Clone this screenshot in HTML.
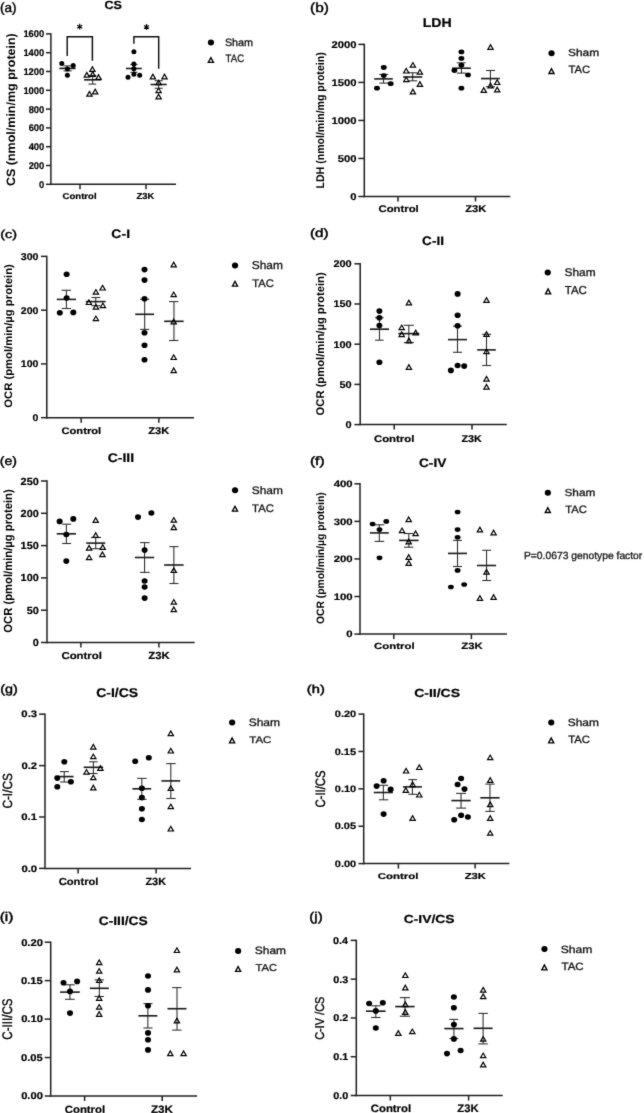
<!DOCTYPE html>
<html><head><meta charset="utf-8"><style>
html,body{margin:0;padding:0;background:#fff;}
svg{display:block;}
text{font-family:"Liberation Sans",sans-serif;text-rendering:geometricPrecision;}
</style></head><body>
<svg width="644" height="1113" viewBox="0 0 644 1113">
<rect width="644" height="1113" fill="#fff"/>
<defs><filter id="bl" x="0" y="0" width="644" height="1113" filterUnits="userSpaceOnUse"><feConvolveMatrix order="3" kernelMatrix="0.0113 0.0838 0.0113 0.0838 0.6193 0.0838 0.0113 0.0838 0.0113" divisor="1" edgeMode="none"/></filter></defs>
<g fill="#000" filter="url(#bl)">
<line x1="50.9" y1="33.2" x2="50.9" y2="185" stroke="#222" stroke-width="1.5"/>
<line x1="50.2" y1="184.3" x2="176" y2="184.3" stroke="#222" stroke-width="1.5"/>
<line x1="46" y1="184.3" x2="50.9" y2="184.3" stroke="#222" stroke-width="1.5"/>
<text transform="translate(39.07 187.7) scale(0.9521 1)" font-size="9.859" font-weight="bold" fill="#000" stroke="#000" stroke-width="0.2">0</text>
<line x1="46" y1="165.5" x2="50.9" y2="165.5" stroke="#222" stroke-width="1.5"/>
<text transform="translate(28.65 168.9) scale(0.9521 1)" font-size="9.859" font-weight="bold" fill="#000" stroke="#000" stroke-width="0.2">200</text>
<line x1="46" y1="146.7" x2="50.9" y2="146.7" stroke="#222" stroke-width="1.5"/>
<text transform="translate(28.65 150.1) scale(0.9521 1)" font-size="9.859" font-weight="bold" fill="#000" stroke="#000" stroke-width="0.2">400</text>
<line x1="46" y1="127.9" x2="50.9" y2="127.9" stroke="#222" stroke-width="1.5"/>
<text transform="translate(28.65 131.3) scale(0.9521 1)" font-size="9.859" font-weight="bold" fill="#000" stroke="#000" stroke-width="0.2">600</text>
<line x1="46" y1="109.1" x2="50.9" y2="109.1" stroke="#222" stroke-width="1.5"/>
<text transform="translate(28.65 112.5) scale(0.9521 1)" font-size="9.859" font-weight="bold" fill="#000" stroke="#000" stroke-width="0.2">800</text>
<line x1="46" y1="90.3" x2="50.9" y2="90.3" stroke="#222" stroke-width="1.5"/>
<text transform="translate(23.39 93.7) scale(0.9521 1)" font-size="9.859" font-weight="bold" fill="#000" stroke="#000" stroke-width="0.2">1000</text>
<line x1="46" y1="71.5" x2="50.9" y2="71.5" stroke="#222" stroke-width="1.5"/>
<text transform="translate(23.39 74.9) scale(0.9521 1)" font-size="9.859" font-weight="bold" fill="#000" stroke="#000" stroke-width="0.2">1200</text>
<line x1="46" y1="52.7" x2="50.9" y2="52.7" stroke="#222" stroke-width="1.5"/>
<text transform="translate(23.39 56.1) scale(0.9521 1)" font-size="9.859" font-weight="bold" fill="#000" stroke="#000" stroke-width="0.2">1400</text>
<line x1="46" y1="33.9" x2="50.9" y2="33.9" stroke="#222" stroke-width="1.5"/>
<text transform="translate(23.39 37.3) scale(0.9521 1)" font-size="9.859" font-weight="bold" fill="#000" stroke="#000" stroke-width="0.2">1600</text>
<line x1="80" y1="184.3" x2="80" y2="189.3" stroke="#222" stroke-width="1.5"/>
<line x1="146" y1="184.3" x2="146" y2="189.3" stroke="#222" stroke-width="1.5"/>
<text transform="translate(62.62 199.12) scale(1.1338 1)" font-size="8.435" font-weight="bold" fill="#000" stroke="#000" stroke-width="0.2">Control</text>
<text transform="translate(136.52 199.11) scale(1.0800 1)" font-size="8.732" font-weight="bold" fill="#000" stroke="#000" stroke-width="0.2">Z3K</text>
<text transform="translate(0.09 12.11) scale(1.0214 1)" font-size="13.262" font-weight="normal" fill="#000" stroke="#000" stroke-width="0.45">(a)</text>
<text transform="translate(104.4 9.18) scale(1.0646 1)" font-size="11.831" font-weight="bold" fill="#000" stroke="#000" stroke-width="0.2">CS</text>
<text transform="translate(15.26 186.1) rotate(-90) scale(1.0357 1)" font-size="12.086" font-weight="bold" fill="#000">CS (nmol/min/mg protein)</text>
<ellipse cx="210.95" cy="42.4" rx="3.1" ry="3.0"/>
<path fill-rule="evenodd" d="M210.9,56.2 L207.2,63.11 L214.6,63.11Z M210.9,59.06 L212.34,61.76 L209.46,61.76Z"/>
<text transform="translate(224.91 45.79) scale(1.0177 1)" font-size="10.612" font-weight="normal" fill="#111" stroke="#111" stroke-width="0.3">Sham</text>
<text transform="translate(225.61 62.39) scale(0.8850 1)" font-size="10.845" font-weight="normal" fill="#111" stroke="#111" stroke-width="0.3">TAC</text>
<line x1="67.45" y1="65.9" x2="67.45" y2="70.9" stroke="#333" stroke-width="1.1"/>
<line x1="63.5" y1="65.9" x2="71.7" y2="65.9" stroke="#333" stroke-width="1.1"/>
<line x1="63.5" y1="70.9" x2="71.7" y2="70.9" stroke="#333" stroke-width="1.1"/>
<line x1="59.3" y1="68.4" x2="75.6" y2="68.4" stroke="#1a1a1a" stroke-width="1.6"/>
<ellipse cx="61.8" cy="63.5" rx="2.5" ry="2.5"/>
<ellipse cx="73.2" cy="65.5" rx="2.5" ry="2.5"/>
<ellipse cx="67.4" cy="69" rx="2.5" ry="2.5"/>
<ellipse cx="67.4" cy="75.2" rx="2.5" ry="2.5"/>
<line x1="92.65" y1="75.5" x2="92.65" y2="84.1" stroke="#333" stroke-width="1.1"/>
<line x1="88.4" y1="75.5" x2="96.2" y2="75.5" stroke="#333" stroke-width="1.1"/>
<line x1="88.4" y1="84.1" x2="96.2" y2="84.1" stroke="#333" stroke-width="1.1"/>
<line x1="84.1" y1="79.8" x2="101.2" y2="79.8" stroke="#1a1a1a" stroke-width="1.6"/>
<path fill-rule="evenodd" d="M92.4,65.48 L88.7,71.88 L96.1,71.88Z M92.4,67.88 L94.02,70.68 L90.78,70.68Z"/>
<path fill-rule="evenodd" d="M86.8,71.28 L83.1,77.68 L90.5,77.68Z M86.8,73.68 L88.42,76.48 L85.18,76.48Z"/>
<path fill-rule="evenodd" d="M92.7,70.48 L89,76.88 L96.4,76.88Z M92.7,72.88 L94.32,75.68 L91.08,75.68Z"/>
<path fill-rule="evenodd" d="M98.5,73.58 L94.8,79.98 L102.2,79.98Z M98.5,75.98 L100.12,78.78 L96.88,78.78Z"/>
<path fill-rule="evenodd" d="M89.5,90.28 L85.8,96.68 L93.2,96.68Z M89.5,92.68 L91.12,95.48 L87.88,95.48Z"/>
<path fill-rule="evenodd" d="M95.2,87.98 L91.5,94.38 L98.9,94.38Z M95.2,90.38 L96.82,93.18 L93.58,93.18Z"/>
<line x1="133.85" y1="64.5" x2="133.85" y2="72.3" stroke="#333" stroke-width="1.1"/>
<line x1="130.4" y1="64.5" x2="137.5" y2="64.5" stroke="#333" stroke-width="1.1"/>
<line x1="130.4" y1="72.3" x2="137.5" y2="72.3" stroke="#333" stroke-width="1.1"/>
<line x1="125.9" y1="68.5" x2="141.8" y2="68.5" stroke="#1a1a1a" stroke-width="1.6"/>
<ellipse cx="133.9" cy="51.7" rx="2.5" ry="2.5"/>
<ellipse cx="133.9" cy="63.9" rx="2.5" ry="2.5"/>
<ellipse cx="133.9" cy="68.8" rx="2.5" ry="2.5"/>
<ellipse cx="133.9" cy="74.2" rx="2.5" ry="2.5"/>
<ellipse cx="128" cy="77.2" rx="2.5" ry="2.5"/>
<ellipse cx="139.7" cy="75.3" rx="2.5" ry="2.5"/>
<line x1="158.65" y1="80.7" x2="158.65" y2="88.3" stroke="#333" stroke-width="1.1"/>
<line x1="154.6" y1="80.7" x2="162.7" y2="80.7" stroke="#333" stroke-width="1.1"/>
<line x1="154.6" y1="88.3" x2="162.7" y2="88.3" stroke="#333" stroke-width="1.1"/>
<line x1="150.6" y1="84.5" x2="166.7" y2="84.5" stroke="#1a1a1a" stroke-width="1.6"/>
<path fill-rule="evenodd" d="M152.9,73.08 L149.2,79.48 L156.6,79.48Z M152.9,75.48 L154.52,78.28 L151.28,78.28Z"/>
<path fill-rule="evenodd" d="M164.5,73.08 L160.8,79.48 L168.2,79.48Z M164.5,75.48 L166.12,78.28 L162.88,78.28Z"/>
<path fill-rule="evenodd" d="M158.6,78.88 L154.9,85.28 L162.3,85.28Z M158.6,81.28 L160.22,84.08 L156.98,84.08Z"/>
<path fill-rule="evenodd" d="M158.6,86.88 L154.9,93.28 L162.3,93.28Z M158.6,89.28 L160.22,92.08 L156.98,92.08Z"/>
<path fill-rule="evenodd" d="M158.6,93.08 L154.9,99.48 L162.3,99.48Z M158.6,95.48 L160.22,98.28 L156.98,98.28Z"/>
<line x1="364.3" y1="43.7" x2="364.3" y2="197.2" stroke="#222" stroke-width="1.5"/>
<line x1="363.6" y1="196.5" x2="510.3" y2="196.5" stroke="#222" stroke-width="1.5"/>
<line x1="358.3" y1="196.5" x2="364.3" y2="196.5" stroke="#222" stroke-width="1.5"/>
<text transform="translate(350.2 199.9) scale(1.1417 1)" font-size="9.859" font-weight="bold" fill="#000" stroke="#000" stroke-width="0.2">0</text>
<line x1="358.3" y1="158.47" x2="364.3" y2="158.47" stroke="#222" stroke-width="1.5"/>
<text transform="translate(337.71 161.88) scale(1.1417 1)" font-size="9.859" font-weight="bold" fill="#000" stroke="#000" stroke-width="0.2">500</text>
<line x1="358.3" y1="120.45" x2="364.3" y2="120.45" stroke="#222" stroke-width="1.5"/>
<text transform="translate(331.41 123.85) scale(1.1417 1)" font-size="9.859" font-weight="bold" fill="#000" stroke="#000" stroke-width="0.2">1000</text>
<line x1="358.3" y1="82.42" x2="364.3" y2="82.42" stroke="#222" stroke-width="1.5"/>
<text transform="translate(331.41 85.83) scale(1.1417 1)" font-size="9.859" font-weight="bold" fill="#000" stroke="#000" stroke-width="0.2">1500</text>
<line x1="358.3" y1="44.4" x2="364.3" y2="44.4" stroke="#222" stroke-width="1.5"/>
<text transform="translate(331.41 47.8) scale(1.1417 1)" font-size="9.859" font-weight="bold" fill="#000" stroke="#000" stroke-width="0.2">2000</text>
<line x1="398" y1="196.5" x2="398" y2="201.5" stroke="#222" stroke-width="1.5"/>
<line x1="475.5" y1="196.5" x2="475.5" y2="201.5" stroke="#222" stroke-width="1.5"/>
<text transform="translate(378.45 212) scale(1.1904 1)" font-size="9.524" font-weight="bold" fill="#000" stroke="#000" stroke-width="0.2">Control</text>
<text transform="translate(465.27 212) scale(1.1325 1)" font-size="9.859" font-weight="bold" fill="#000" stroke="#000" stroke-width="0.2">Z3K</text>
<text transform="translate(310.07 12.11) scale(1.1653 1)" font-size="13.262" font-weight="normal" fill="#000" stroke="#000" stroke-width="0.45">(b)</text>
<text transform="translate(422.68 27.4) scale(1.1165 1)" font-size="12.609" font-weight="bold" fill="#000" stroke="#000" stroke-width="0.2">LDH</text>
<text transform="translate(323.54 188.49) rotate(-90) scale(0.9417 1)" font-size="11.230" font-weight="bold" fill="#000">LDH (nmol/min/mg protein)</text>
<ellipse cx="551.55" cy="53.3" rx="3.1" ry="3.0"/>
<path fill-rule="evenodd" d="M551.5,67.31 L547.8,74.21 L555.2,74.21Z M551.5,70.16 L552.94,72.86 L550.06,72.86Z"/>
<text transform="translate(567.96 56.3) scale(1.1682 1)" font-size="10.204" font-weight="normal" fill="#111" stroke="#111" stroke-width="0.3">Sham</text>
<text transform="translate(568.57 73.39) scale(1.0660 1)" font-size="10.563" font-weight="normal" fill="#111" stroke="#111" stroke-width="0.3">TAC</text>
<line x1="383.5" y1="74.4" x2="383.5" y2="83.1" stroke="#333" stroke-width="1.1"/>
<line x1="379.3" y1="74.4" x2="388.2" y2="74.4" stroke="#333" stroke-width="1.1"/>
<line x1="379.3" y1="83.1" x2="388.2" y2="83.1" stroke="#333" stroke-width="1.1"/>
<line x1="374.2" y1="78.9" x2="392.8" y2="78.9" stroke="#1a1a1a" stroke-width="1.6"/>
<ellipse cx="383.8" cy="67.5" rx="2.9" ry="2.4"/>
<ellipse cx="383.8" cy="75.6" rx="2.9" ry="2.4"/>
<ellipse cx="390.7" cy="83.7" rx="2.9" ry="2.4"/>
<ellipse cx="377" cy="88.2" rx="2.9" ry="2.4"/>
<line x1="412.65" y1="72.8" x2="412.65" y2="80.8" stroke="#333" stroke-width="1.1"/>
<line x1="408.6" y1="72.8" x2="417.2" y2="72.8" stroke="#333" stroke-width="1.1"/>
<line x1="408.6" y1="80.8" x2="417.2" y2="80.8" stroke="#333" stroke-width="1.1"/>
<line x1="403.1" y1="77" x2="422.2" y2="77" stroke="#1a1a1a" stroke-width="1.6"/>
<path fill-rule="evenodd" d="M412.9,61.38 L409.2,67.78 L416.6,67.78Z M412.9,63.78 L414.52,66.58 L411.28,66.58Z"/>
<path fill-rule="evenodd" d="M406.2,67.18 L402.5,73.58 L409.9,73.58Z M406.2,69.58 L407.82,72.38 L404.58,72.38Z"/>
<path fill-rule="evenodd" d="M419.9,68.38 L416.2,74.78 L423.6,74.78Z M419.9,70.78 L421.52,73.58 L418.28,73.58Z"/>
<path fill-rule="evenodd" d="M406.3,75.88 L402.6,82.28 L410,82.28Z M406.3,78.28 L407.92,81.08 L404.68,81.08Z"/>
<path fill-rule="evenodd" d="M419.9,80.48 L416.2,86.88 L423.6,86.88Z M419.9,82.88 L421.52,85.68 L418.28,85.68Z"/>
<path fill-rule="evenodd" d="M412.9,87.98 L409.2,94.38 L416.6,94.38Z M412.9,90.38 L414.52,93.18 L411.28,93.18Z"/>
<line x1="461.45" y1="62.8" x2="461.45" y2="73.1" stroke="#333" stroke-width="1.1"/>
<line x1="456.8" y1="62.8" x2="465.6" y2="62.8" stroke="#333" stroke-width="1.1"/>
<line x1="456.8" y1="73.1" x2="465.6" y2="73.1" stroke="#333" stroke-width="1.1"/>
<line x1="452.1" y1="68.2" x2="470.8" y2="68.2" stroke="#1a1a1a" stroke-width="1.6"/>
<ellipse cx="461.4" cy="51.9" rx="2.9" ry="2.4"/>
<ellipse cx="461.4" cy="58.4" rx="2.9" ry="2.4"/>
<ellipse cx="461.4" cy="65.2" rx="2.9" ry="2.4"/>
<ellipse cx="454.4" cy="70.5" rx="2.9" ry="2.4"/>
<ellipse cx="468" cy="74.9" rx="2.9" ry="2.4"/>
<ellipse cx="461.4" cy="88.2" rx="2.9" ry="2.4"/>
<line x1="490.4" y1="70.5" x2="490.4" y2="86.7" stroke="#333" stroke-width="1.1"/>
<line x1="486" y1="70.5" x2="495" y2="70.5" stroke="#333" stroke-width="1.1"/>
<line x1="486" y1="86.7" x2="495" y2="86.7" stroke="#333" stroke-width="1.1"/>
<line x1="481" y1="78.6" x2="499.8" y2="78.6" stroke="#1a1a1a" stroke-width="1.6"/>
<path fill-rule="evenodd" d="M490.5,43.48 L486.8,49.88 L494.2,49.88Z M490.5,45.88 L492.12,48.68 L488.88,48.68Z"/>
<path fill-rule="evenodd" d="M483.8,86.58 L480.1,92.98 L487.5,92.98Z M483.8,88.98 L485.42,91.78 L482.18,91.78Z"/>
<path fill-rule="evenodd" d="M490.5,81.98 L486.8,88.38 L494.2,88.38Z M490.5,84.38 L492.12,87.18 L488.88,87.18Z"/>
<path fill-rule="evenodd" d="M497.2,78.68 L493.5,85.08 L500.9,85.08Z M497.2,81.08 L498.82,83.88 L495.58,83.88Z"/>
<path fill-rule="evenodd" d="M497.2,86.08 L493.5,92.48 L500.9,92.48Z M497.2,88.48 L498.82,91.28 L495.58,91.28Z"/>
<line x1="46.8" y1="255.7" x2="46.8" y2="418.4" stroke="#222" stroke-width="1.5"/>
<line x1="46.1" y1="417.7" x2="194" y2="417.7" stroke="#222" stroke-width="1.5"/>
<line x1="41" y1="417.7" x2="46.8" y2="417.7" stroke="#222" stroke-width="1.5"/>
<text transform="translate(32.56 421.1) scale(1.0713 1)" font-size="9.859" font-weight="bold" fill="#000" stroke="#000" stroke-width="0.2">0</text>
<line x1="41" y1="363.93" x2="46.8" y2="363.93" stroke="#222" stroke-width="1.5"/>
<text transform="translate(20.84 367.33) scale(1.0713 1)" font-size="9.859" font-weight="bold" fill="#000" stroke="#000" stroke-width="0.2">100</text>
<line x1="41" y1="310.17" x2="46.8" y2="310.17" stroke="#222" stroke-width="1.5"/>
<text transform="translate(20.84 313.57) scale(1.0713 1)" font-size="9.859" font-weight="bold" fill="#000" stroke="#000" stroke-width="0.2">200</text>
<line x1="41" y1="256.4" x2="46.8" y2="256.4" stroke="#222" stroke-width="1.5"/>
<text transform="translate(20.84 259.8) scale(1.0713 1)" font-size="9.859" font-weight="bold" fill="#000" stroke="#000" stroke-width="0.2">300</text>
<line x1="81.2" y1="417.7" x2="81.2" y2="422.7" stroke="#222" stroke-width="1.5"/>
<line x1="158.8" y1="417.7" x2="158.8" y2="422.7" stroke="#222" stroke-width="1.5"/>
<text transform="translate(61.45 434.21) scale(1.1922 1)" font-size="9.388" font-weight="bold" fill="#000" stroke="#000" stroke-width="0.2">Control</text>
<text transform="translate(148.27 434.2) scale(1.1489 1)" font-size="9.718" font-weight="bold" fill="#000" stroke="#000" stroke-width="0.2">Z3K</text>
<text transform="translate(0.13 237.52) scale(1.2746 1)" font-size="11.337" font-weight="normal" fill="#000" stroke="#000" stroke-width="0.45">(c)</text>
<text transform="translate(111.34 237.88) scale(1.1328 1)" font-size="12.394" font-weight="bold" fill="#000" stroke="#000" stroke-width="0.2">C-I</text>
<text transform="translate(12.21 407.75) rotate(-90) scale(1.0344 1)" font-size="10.909" font-weight="bold" fill="#000">OCR (pmol/min/µg protein)</text>
<ellipse cx="235.05" cy="265.5" rx="3.1" ry="3.0"/>
<path fill-rule="evenodd" d="M235,279.9 L231.3,286.81 L238.7,286.81Z M235,282.76 L236.44,285.45 L233.56,285.45Z"/>
<text transform="translate(251.76 269.19) scale(1.0430 1)" font-size="11.429" font-weight="normal" fill="#111" stroke="#111" stroke-width="0.3">Sham</text>
<text transform="translate(252.28 286.89) scale(1.0201 1)" font-size="10.986" font-weight="normal" fill="#111" stroke="#111" stroke-width="0.3">TAC</text>
<line x1="66.4" y1="290.3" x2="66.4" y2="308.5" stroke="#333" stroke-width="1.1"/>
<line x1="61.7" y1="290.3" x2="71" y2="290.3" stroke="#333" stroke-width="1.1"/>
<line x1="61.7" y1="308.5" x2="71" y2="308.5" stroke="#333" stroke-width="1.1"/>
<line x1="56.8" y1="299.4" x2="76" y2="299.4" stroke="#1a1a1a" stroke-width="1.6"/>
<ellipse cx="66.6" cy="274.3" rx="3.0" ry="2.8"/>
<ellipse cx="66.6" cy="298" rx="3.0" ry="2.8"/>
<ellipse cx="59.8" cy="312.7" rx="3.0" ry="2.8"/>
<ellipse cx="73.3" cy="312.4" rx="3.0" ry="2.8"/>
<line x1="95.75" y1="297.5" x2="95.75" y2="305.7" stroke="#333" stroke-width="1.1"/>
<line x1="91.4" y1="297.5" x2="100.4" y2="297.5" stroke="#333" stroke-width="1.1"/>
<line x1="91.4" y1="305.7" x2="100.4" y2="305.7" stroke="#333" stroke-width="1.1"/>
<line x1="85.8" y1="301.6" x2="105.7" y2="301.6" stroke="#1a1a1a" stroke-width="1.6"/>
<path fill-rule="evenodd" d="M102.6,284.18 L98.9,290.58 L106.3,290.58Z M102.6,286.58 L104.22,289.38 L100.98,289.38Z"/>
<path fill-rule="evenodd" d="M95.9,288.38 L92.2,294.78 L99.6,294.78Z M95.9,290.78 L97.52,293.58 L94.28,293.58Z"/>
<path fill-rule="evenodd" d="M88.9,298.68 L85.2,305.08 L92.6,305.08Z M88.9,301.08 L90.52,303.88 L87.28,303.88Z"/>
<path fill-rule="evenodd" d="M95.9,303.28 L92.2,309.68 L99.6,309.68Z M95.9,305.68 L97.52,308.48 L94.28,308.48Z"/>
<path fill-rule="evenodd" d="M102.9,301.88 L99.2,308.28 L106.6,308.28Z M102.9,304.28 L104.52,307.08 L101.28,307.08Z"/>
<path fill-rule="evenodd" d="M95.9,314.88 L92.2,321.28 L99.6,321.28Z M95.9,317.28 L97.52,320.08 L94.28,320.08Z"/>
<line x1="144.65" y1="299.3" x2="144.65" y2="329.4" stroke="#333" stroke-width="1.1"/>
<line x1="140.1" y1="299.3" x2="149.2" y2="299.3" stroke="#333" stroke-width="1.1"/>
<line x1="140.1" y1="329.4" x2="149.2" y2="329.4" stroke="#333" stroke-width="1.1"/>
<line x1="135.2" y1="314.3" x2="154.1" y2="314.3" stroke="#1a1a1a" stroke-width="1.6"/>
<ellipse cx="144.5" cy="269.6" rx="3.0" ry="2.8"/>
<ellipse cx="144.5" cy="280.1" rx="3.0" ry="2.8"/>
<ellipse cx="144.5" cy="298.8" rx="3.0" ry="2.8"/>
<ellipse cx="144.5" cy="332.7" rx="3.0" ry="2.8"/>
<ellipse cx="144.5" cy="345.2" rx="3.0" ry="2.8"/>
<ellipse cx="144.5" cy="359.8" rx="3.0" ry="2.8"/>
<line x1="173.95" y1="301.6" x2="173.95" y2="340.5" stroke="#333" stroke-width="1.1"/>
<line x1="169" y1="301.6" x2="178.4" y2="301.6" stroke="#333" stroke-width="1.1"/>
<line x1="169" y1="340.5" x2="178.4" y2="340.5" stroke="#333" stroke-width="1.1"/>
<line x1="164.2" y1="321.3" x2="183.7" y2="321.3" stroke="#1a1a1a" stroke-width="1.6"/>
<path fill-rule="evenodd" d="M173.7,261.08 L170,267.48 L177.4,267.48Z M173.7,263.48 L175.32,266.28 L172.08,266.28Z"/>
<path fill-rule="evenodd" d="M173.7,290.88 L170,297.28 L177.4,297.28Z M173.7,293.28 L175.32,296.08 L172.08,296.08Z"/>
<path fill-rule="evenodd" d="M173.7,317.98 L170,324.38 L177.4,324.38Z M173.7,320.38 L175.32,323.18 L172.08,323.18Z"/>
<path fill-rule="evenodd" d="M173.7,353.68 L170,360.08 L177.4,360.08Z M173.7,356.08 L175.32,358.88 L172.08,358.88Z"/>
<path fill-rule="evenodd" d="M173.7,366.78 L170,373.18 L177.4,373.18Z M173.7,369.18 L175.32,371.98 L172.08,371.98Z"/>
<line x1="360.2" y1="263.1" x2="360.2" y2="425.3" stroke="#222" stroke-width="1.5"/>
<line x1="359.5" y1="424.6" x2="506.8" y2="424.6" stroke="#222" stroke-width="1.5"/>
<line x1="354.4" y1="424.6" x2="360.2" y2="424.6" stroke="#222" stroke-width="1.5"/>
<text transform="translate(345.56 428) scale(1.1100 1)" font-size="9.859" font-weight="bold" fill="#000" stroke="#000" stroke-width="0.2">0</text>
<line x1="354.4" y1="384.4" x2="360.2" y2="384.4" stroke="#222" stroke-width="1.5"/>
<text transform="translate(339.49 387.8) scale(1.1100 1)" font-size="9.859" font-weight="bold" fill="#000" stroke="#000" stroke-width="0.2">50</text>
<line x1="354.4" y1="344.2" x2="360.2" y2="344.2" stroke="#222" stroke-width="1.5"/>
<text transform="translate(333.42 347.6) scale(1.1100 1)" font-size="9.859" font-weight="bold" fill="#000" stroke="#000" stroke-width="0.2">100</text>
<line x1="354.4" y1="304" x2="360.2" y2="304" stroke="#222" stroke-width="1.5"/>
<text transform="translate(333.42 307.4) scale(1.1100 1)" font-size="9.859" font-weight="bold" fill="#000" stroke="#000" stroke-width="0.2">150</text>
<line x1="354.4" y1="263.8" x2="360.2" y2="263.8" stroke="#222" stroke-width="1.5"/>
<text transform="translate(333.42 267.2) scale(1.1100 1)" font-size="9.859" font-weight="bold" fill="#000" stroke="#000" stroke-width="0.2">200</text>
<line x1="394.2" y1="424.6" x2="394.2" y2="429.6" stroke="#222" stroke-width="1.5"/>
<line x1="472" y1="424.6" x2="472" y2="429.6" stroke="#222" stroke-width="1.5"/>
<text transform="translate(373.94 441.7) scale(1.1965 1)" font-size="9.524" font-weight="bold" fill="#000" stroke="#000" stroke-width="0.2">Control</text>
<text transform="translate(461.48 441.7) scale(1.0885 1)" font-size="9.859" font-weight="bold" fill="#000" stroke="#000" stroke-width="0.2">Z3K</text>
<text transform="translate(309.99 237.08) scale(1.2674 1)" font-size="11.979" font-weight="normal" fill="#000" stroke="#000" stroke-width="0.45">(d)</text>
<text transform="translate(422.06 244.88) scale(1.0990 1)" font-size="12.394" font-weight="bold" fill="#000" stroke="#000" stroke-width="0.2">C-II</text>
<text transform="translate(324.34 415.45) rotate(-90) scale(1.0013 1)" font-size="11.230" font-weight="bold" fill="#000">OCR (pmol/min/µg protein)</text>
<ellipse cx="547.75" cy="272.4" rx="3.1" ry="3.0"/>
<path fill-rule="evenodd" d="M548.1,287.6 L544.4,294.5 L551.8,294.5Z M548.1,290.46 L549.54,293.15 L546.66,293.15Z"/>
<text transform="translate(564.46 275.99) scale(1.0816 1)" font-size="11.020" font-weight="normal" fill="#111" stroke="#111" stroke-width="0.3">Sham</text>
<text transform="translate(564.77 294.38) scale(0.9982 1)" font-size="11.549" font-weight="normal" fill="#111" stroke="#111" stroke-width="0.3">TAC</text>
<line x1="379.5" y1="317.7" x2="379.5" y2="340.2" stroke="#333" stroke-width="1.1"/>
<line x1="375" y1="317.7" x2="383.6" y2="317.7" stroke="#333" stroke-width="1.1"/>
<line x1="375" y1="340.2" x2="383.6" y2="340.2" stroke="#333" stroke-width="1.1"/>
<line x1="370" y1="329.2" x2="389" y2="329.2" stroke="#1a1a1a" stroke-width="1.6"/>
<ellipse cx="379.4" cy="311.1" rx="3.0" ry="2.8"/>
<ellipse cx="379.4" cy="317.7" rx="3.0" ry="2.8"/>
<ellipse cx="379.4" cy="325.5" rx="3.0" ry="2.8"/>
<ellipse cx="379.4" cy="362.3" rx="3.0" ry="2.8"/>
<line x1="408.8" y1="325.3" x2="408.8" y2="342.6" stroke="#333" stroke-width="1.1"/>
<line x1="403.8" y1="325.3" x2="413.9" y2="325.3" stroke="#333" stroke-width="1.1"/>
<line x1="403.8" y1="342.6" x2="413.9" y2="342.6" stroke="#333" stroke-width="1.1"/>
<line x1="398.3" y1="333.6" x2="419.3" y2="333.6" stroke="#1a1a1a" stroke-width="1.6"/>
<path fill-rule="evenodd" d="M408.9,298.98 L405.2,305.38 L412.6,305.38Z M408.9,301.38 L410.52,304.18 L407.28,304.18Z"/>
<path fill-rule="evenodd" d="M401.7,323.88 L398,330.28 L405.4,330.28Z M401.7,326.28 L403.32,329.08 L400.08,329.08Z"/>
<path fill-rule="evenodd" d="M401.7,330.78 L398,337.18 L405.4,337.18Z M401.7,333.18 L403.32,335.98 L400.08,335.98Z"/>
<path fill-rule="evenodd" d="M415.7,328.98 L412,335.38 L419.4,335.38Z M415.7,331.38 L417.32,334.18 L414.08,334.18Z"/>
<path fill-rule="evenodd" d="M408.9,337.08 L405.2,343.48 L412.6,343.48Z M408.9,339.48 L410.52,342.28 L407.28,342.28Z"/>
<path fill-rule="evenodd" d="M408.9,363.48 L405.2,369.88 L412.6,369.88Z M408.9,365.88 L410.52,368.68 L407.28,368.68Z"/>
<line x1="457.5" y1="326.2" x2="457.5" y2="352.3" stroke="#333" stroke-width="1.1"/>
<line x1="453" y1="326.2" x2="462" y2="326.2" stroke="#333" stroke-width="1.1"/>
<line x1="453" y1="352.3" x2="462" y2="352.3" stroke="#333" stroke-width="1.1"/>
<line x1="448" y1="339.6" x2="467" y2="339.6" stroke="#1a1a1a" stroke-width="1.6"/>
<ellipse cx="457.6" cy="293.9" rx="3.0" ry="2.8"/>
<ellipse cx="457.6" cy="315.2" rx="3.0" ry="2.8"/>
<ellipse cx="457.6" cy="325.7" rx="3.0" ry="2.8"/>
<ellipse cx="457.6" cy="365.5" rx="3.0" ry="2.8"/>
<ellipse cx="464.2" cy="366.1" rx="3.0" ry="2.8"/>
<ellipse cx="450.9" cy="370.4" rx="3.0" ry="2.8"/>
<line x1="486.5" y1="334.3" x2="486.5" y2="365.5" stroke="#333" stroke-width="1.1"/>
<line x1="482.2" y1="334.3" x2="491.1" y2="334.3" stroke="#333" stroke-width="1.1"/>
<line x1="482.2" y1="365.5" x2="491.1" y2="365.5" stroke="#333" stroke-width="1.1"/>
<line x1="477.2" y1="349.9" x2="495.8" y2="349.9" stroke="#1a1a1a" stroke-width="1.6"/>
<path fill-rule="evenodd" d="M486.5,296.58 L482.8,302.98 L490.2,302.98Z M486.5,298.98 L488.12,301.78 L484.88,301.78Z"/>
<path fill-rule="evenodd" d="M486.5,330.48 L482.8,336.88 L490.2,336.88Z M486.5,332.88 L488.12,335.68 L484.88,335.68Z"/>
<path fill-rule="evenodd" d="M486.5,347.88 L482.8,354.28 L490.2,354.28Z M486.5,350.28 L488.12,353.08 L484.88,353.08Z"/>
<path fill-rule="evenodd" d="M486.5,375.28 L482.8,381.68 L490.2,381.68Z M486.5,377.68 L488.12,380.48 L484.88,380.48Z"/>
<path fill-rule="evenodd" d="M486.5,383.28 L482.8,389.68 L490.2,389.68Z M486.5,385.68 L488.12,388.48 L484.88,388.48Z"/>
<line x1="47" y1="480.3" x2="47" y2="643.2" stroke="#222" stroke-width="1.5"/>
<line x1="46.3" y1="642.5" x2="194.7" y2="642.5" stroke="#222" stroke-width="1.5"/>
<line x1="41" y1="642.5" x2="47" y2="642.5" stroke="#222" stroke-width="1.5"/>
<text transform="translate(32.7 646.05) scale(1.0582 1)" font-size="10.282" font-weight="bold" fill="#000" stroke="#000" stroke-width="0.2">0</text>
<line x1="41" y1="610.2" x2="47" y2="610.2" stroke="#222" stroke-width="1.5"/>
<text transform="translate(26.66 613.75) scale(1.0582 1)" font-size="10.282" font-weight="bold" fill="#000" stroke="#000" stroke-width="0.2">50</text>
<line x1="41" y1="577.9" x2="47" y2="577.9" stroke="#222" stroke-width="1.5"/>
<text transform="translate(20.62 581.45) scale(1.0582 1)" font-size="10.282" font-weight="bold" fill="#000" stroke="#000" stroke-width="0.2">100</text>
<line x1="41" y1="545.6" x2="47" y2="545.6" stroke="#222" stroke-width="1.5"/>
<text transform="translate(20.62 549.15) scale(1.0582 1)" font-size="10.282" font-weight="bold" fill="#000" stroke="#000" stroke-width="0.2">150</text>
<line x1="41" y1="513.3" x2="47" y2="513.3" stroke="#222" stroke-width="1.5"/>
<text transform="translate(20.62 516.85) scale(1.0582 1)" font-size="10.282" font-weight="bold" fill="#000" stroke="#000" stroke-width="0.2">200</text>
<line x1="41" y1="481" x2="47" y2="481" stroke="#222" stroke-width="1.5"/>
<text transform="translate(20.62 484.55) scale(1.0582 1)" font-size="10.282" font-weight="bold" fill="#000" stroke="#000" stroke-width="0.2">250</text>
<line x1="80.9" y1="642.5" x2="80.9" y2="647.5" stroke="#222" stroke-width="1.5"/>
<line x1="158.9" y1="642.5" x2="158.9" y2="647.5" stroke="#222" stroke-width="1.5"/>
<text transform="translate(61.44 658.8) scale(1.1473 1)" font-size="9.932" font-weight="bold" fill="#000" stroke="#000" stroke-width="0.2">Control</text>
<text transform="translate(148.26 658.8) scale(1.1018 1)" font-size="10.282" font-weight="bold" fill="#000" stroke="#000" stroke-width="0.2">Z3K</text>
<text transform="translate(-0.25 465.04) scale(1.1557 1)" font-size="12.193" font-weight="normal" fill="#000" stroke="#000" stroke-width="0.45">(e)</text>
<text transform="translate(107.64 462.47) scale(1.1160 1)" font-size="12.535" font-weight="bold" fill="#000" stroke="#000" stroke-width="0.2">C-III</text>
<text transform="translate(12.43 632.75) rotate(-90) scale(0.9578 1)" font-size="11.765" font-weight="bold" fill="#000">OCR (pmol/min/µg protein)</text>
<ellipse cx="235.05" cy="490.2" rx="3.1" ry="3.0"/>
<path fill-rule="evenodd" d="M235,504.9 L231.3,511.81 L238.7,511.81Z M235,507.76 L236.44,510.45 L233.56,510.45Z"/>
<text transform="translate(251.76 493.79) scale(1.0952 1)" font-size="10.884" font-weight="normal" fill="#111" stroke="#111" stroke-width="0.3">Sham</text>
<text transform="translate(252.07 511.89) scale(1.0298 1)" font-size="10.986" font-weight="normal" fill="#111" stroke="#111" stroke-width="0.3">TAC</text>
<line x1="66.4" y1="524.2" x2="66.4" y2="543.5" stroke="#333" stroke-width="1.1"/>
<line x1="62.1" y1="524.2" x2="71.1" y2="524.2" stroke="#333" stroke-width="1.1"/>
<line x1="62.1" y1="543.5" x2="71.1" y2="543.5" stroke="#333" stroke-width="1.1"/>
<line x1="56.8" y1="533.8" x2="76" y2="533.8" stroke="#1a1a1a" stroke-width="1.6"/>
<ellipse cx="59.6" cy="521.4" rx="3.0" ry="2.8"/>
<ellipse cx="73.3" cy="518.9" rx="3.0" ry="2.8"/>
<ellipse cx="66.3" cy="534.5" rx="3.0" ry="2.8"/>
<ellipse cx="66.3" cy="561.1" rx="3.0" ry="2.8"/>
<line x1="95.7" y1="537.5" x2="95.7" y2="548.7" stroke="#333" stroke-width="1.1"/>
<line x1="91" y1="537.5" x2="101" y2="537.5" stroke="#333" stroke-width="1.1"/>
<line x1="91" y1="548.7" x2="101" y2="548.7" stroke="#333" stroke-width="1.1"/>
<line x1="86.2" y1="543.1" x2="105.2" y2="543.1" stroke="#1a1a1a" stroke-width="1.6"/>
<path fill-rule="evenodd" d="M95.7,516.58 L92,522.98 L99.4,522.98Z M95.7,518.98 L97.32,521.78 L94.08,521.78Z"/>
<path fill-rule="evenodd" d="M95.7,531.48 L92,537.88 L99.4,537.88Z M95.7,533.88 L97.32,536.68 L94.08,536.68Z"/>
<path fill-rule="evenodd" d="M89.1,544.28 L85.4,550.68 L92.8,550.68Z M89.1,546.68 L90.72,549.48 L87.48,549.48Z"/>
<path fill-rule="evenodd" d="M102.7,543.48 L99,549.88 L106.4,549.88Z M102.7,545.88 L104.32,548.68 L101.08,548.68Z"/>
<path fill-rule="evenodd" d="M102.4,550.78 L98.7,557.18 L106.1,557.18Z M102.4,553.18 L104.02,555.98 L100.78,555.98Z"/>
<path fill-rule="evenodd" d="M89.1,553.88 L85.4,560.28 L92.8,560.28Z M89.1,556.28 L90.72,559.08 L87.48,559.08Z"/>
<line x1="144.55" y1="542.6" x2="144.55" y2="572.4" stroke="#333" stroke-width="1.1"/>
<line x1="140.1" y1="542.6" x2="149.6" y2="542.6" stroke="#333" stroke-width="1.1"/>
<line x1="140.1" y1="572.4" x2="149.6" y2="572.4" stroke="#333" stroke-width="1.1"/>
<line x1="134.9" y1="557.5" x2="154.2" y2="557.5" stroke="#1a1a1a" stroke-width="1.6"/>
<ellipse cx="138" cy="517.1" rx="3.0" ry="2.8"/>
<ellipse cx="151.4" cy="513" rx="3.0" ry="2.8"/>
<ellipse cx="144.6" cy="550.1" rx="3.0" ry="2.8"/>
<ellipse cx="144.6" cy="581" rx="3.0" ry="2.8"/>
<ellipse cx="144.6" cy="587" rx="3.0" ry="2.8"/>
<ellipse cx="144.6" cy="598.1" rx="3.0" ry="2.8"/>
<line x1="173.85" y1="546.6" x2="173.85" y2="583.5" stroke="#333" stroke-width="1.1"/>
<line x1="169.4" y1="546.6" x2="178.4" y2="546.6" stroke="#333" stroke-width="1.1"/>
<line x1="169.4" y1="583.5" x2="178.4" y2="583.5" stroke="#333" stroke-width="1.1"/>
<line x1="164.1" y1="565" x2="183.6" y2="565" stroke="#1a1a1a" stroke-width="1.6"/>
<path fill-rule="evenodd" d="M173.8,516.38 L170.1,522.78 L177.5,522.78Z M173.8,518.78 L175.42,521.58 L172.18,521.58Z"/>
<path fill-rule="evenodd" d="M173.8,523.78 L170.1,530.18 L177.5,530.18Z M173.8,526.18 L175.42,528.98 L172.18,528.98Z"/>
<path fill-rule="evenodd" d="M173.8,566.68 L170.1,573.08 L177.5,573.08Z M173.8,569.08 L175.42,571.88 L172.18,571.88Z"/>
<path fill-rule="evenodd" d="M173.8,598.38 L170.1,604.78 L177.5,604.78Z M173.8,600.78 L175.42,603.58 L172.18,603.58Z"/>
<path fill-rule="evenodd" d="M173.8,605.78 L170.1,612.18 L177.5,612.18Z M173.8,608.18 L175.42,610.98 L172.18,610.98Z"/>
<line x1="360" y1="483.1" x2="360" y2="634.8" stroke="#222" stroke-width="1.5"/>
<line x1="359.3" y1="634.1" x2="506.9" y2="634.1" stroke="#222" stroke-width="1.5"/>
<line x1="354.4" y1="634.1" x2="360" y2="634.1" stroke="#222" stroke-width="1.5"/>
<text transform="translate(346.25 637.31) scale(1.2228 1)" font-size="9.296" font-weight="bold" fill="#000" stroke="#000" stroke-width="0.2">0</text>
<line x1="354.4" y1="596.52" x2="360" y2="596.52" stroke="#222" stroke-width="1.5"/>
<text transform="translate(333.63 599.73) scale(1.2228 1)" font-size="9.296" font-weight="bold" fill="#000" stroke="#000" stroke-width="0.2">100</text>
<line x1="354.4" y1="558.95" x2="360" y2="558.95" stroke="#222" stroke-width="1.5"/>
<text transform="translate(333.63 562.16) scale(1.2228 1)" font-size="9.296" font-weight="bold" fill="#000" stroke="#000" stroke-width="0.2">200</text>
<line x1="354.4" y1="521.38" x2="360" y2="521.38" stroke="#222" stroke-width="1.5"/>
<text transform="translate(333.63 524.58) scale(1.2228 1)" font-size="9.296" font-weight="bold" fill="#000" stroke="#000" stroke-width="0.2">300</text>
<line x1="354.4" y1="483.8" x2="360" y2="483.8" stroke="#222" stroke-width="1.5"/>
<text transform="translate(333.63 487.01) scale(1.2228 1)" font-size="9.296" font-weight="bold" fill="#000" stroke="#000" stroke-width="0.2">400</text>
<line x1="393.8" y1="634.1" x2="393.8" y2="639.1" stroke="#222" stroke-width="1.5"/>
<line x1="471.4" y1="634.1" x2="471.4" y2="639.1" stroke="#222" stroke-width="1.5"/>
<text transform="translate(374.04 649.41) scale(1.2918 1)" font-size="8.844" font-weight="bold" fill="#000" stroke="#000" stroke-width="0.2">Control</text>
<text transform="translate(461.26 649.41) scale(1.2374 1)" font-size="9.155" font-weight="bold" fill="#000" stroke="#000" stroke-width="0.2">Z3K</text>
<text transform="translate(309.97 465.48) scale(1.2930 1)" font-size="11.979" font-weight="normal" fill="#000" stroke="#000" stroke-width="0.45">(f)</text>
<text transform="translate(418.95 467.48) scale(1.1187 1)" font-size="12.254" font-weight="bold" fill="#000" stroke="#000" stroke-width="0.2">C-IV</text>
<text transform="translate(323.95 624.11) rotate(-90) scale(0.9679 1)" font-size="10.695" font-weight="bold" fill="#000">OCR (pmol/min/µg protein)</text>
<ellipse cx="547.85" cy="492.7" rx="3.1" ry="3.0"/>
<path fill-rule="evenodd" d="M547.8,506.3 L544.1,513.2 L551.5,513.2Z M547.8,509.16 L549.24,511.85 L546.36,511.85Z"/>
<text transform="translate(564.47 496.2) scale(1.1603 1)" font-size="10.204" font-weight="normal" fill="#111" stroke="#111" stroke-width="0.3">Sham</text>
<text transform="translate(565.18 513.19) scale(1.0469 1)" font-size="10.704" font-weight="normal" fill="#111" stroke="#111" stroke-width="0.3">TAC</text>
<line x1="379.35" y1="524.8" x2="379.35" y2="541.4" stroke="#333" stroke-width="1.1"/>
<line x1="374.6" y1="524.8" x2="384.2" y2="524.8" stroke="#333" stroke-width="1.1"/>
<line x1="374.6" y1="541.4" x2="384.2" y2="541.4" stroke="#333" stroke-width="1.1"/>
<line x1="369.9" y1="532.9" x2="388.8" y2="532.9" stroke="#1a1a1a" stroke-width="1.6"/>
<ellipse cx="372.6" cy="524" rx="2.9" ry="2.35"/>
<ellipse cx="386.3" cy="521.4" rx="2.9" ry="2.35"/>
<ellipse cx="379.5" cy="529.6" rx="2.9" ry="2.35"/>
<ellipse cx="379.5" cy="557.8" rx="2.9" ry="2.35"/>
<line x1="408.85" y1="533.5" x2="408.85" y2="547.2" stroke="#333" stroke-width="1.1"/>
<line x1="404" y1="533.5" x2="413.4" y2="533.5" stroke="#333" stroke-width="1.1"/>
<line x1="404" y1="547.2" x2="413.4" y2="547.2" stroke="#333" stroke-width="1.1"/>
<line x1="399.1" y1="540.4" x2="418.6" y2="540.4" stroke="#1a1a1a" stroke-width="1.6"/>
<path fill-rule="evenodd" d="M408.7,515.78 L405,522.18 L412.4,522.18Z M408.7,518.18 L410.32,520.98 L407.08,520.98Z"/>
<path fill-rule="evenodd" d="M402,526.88 L398.3,533.28 L405.7,533.28Z M402,529.28 L403.62,532.08 L400.38,532.08Z"/>
<path fill-rule="evenodd" d="M415.6,529.78 L411.9,536.18 L419.3,536.18Z M415.6,532.18 L417.22,534.98 L413.98,534.98Z"/>
<path fill-rule="evenodd" d="M408.7,538.08 L405,544.48 L412.4,544.48Z M408.7,540.48 L410.32,543.28 L407.08,543.28Z"/>
<path fill-rule="evenodd" d="M408.7,553.58 L405,559.98 L412.4,559.98Z M408.7,555.98 L410.32,558.78 L407.08,558.78Z"/>
<path fill-rule="evenodd" d="M408.7,559.58 L405,565.98 L412.4,565.98Z M408.7,561.98 L410.32,564.78 L407.08,564.78Z"/>
<line x1="457.5" y1="540.4" x2="457.5" y2="566.5" stroke="#333" stroke-width="1.1"/>
<line x1="453" y1="540.4" x2="462" y2="540.4" stroke="#333" stroke-width="1.1"/>
<line x1="453" y1="566.5" x2="462" y2="566.5" stroke="#333" stroke-width="1.1"/>
<line x1="448" y1="553.4" x2="467" y2="553.4" stroke="#1a1a1a" stroke-width="1.6"/>
<ellipse cx="457.6" cy="512" rx="2.9" ry="2.35"/>
<ellipse cx="457.6" cy="529.6" rx="2.9" ry="2.35"/>
<ellipse cx="457.6" cy="537.3" rx="2.9" ry="2.35"/>
<ellipse cx="457.6" cy="570.4" rx="2.9" ry="2.35"/>
<ellipse cx="464.2" cy="584.5" rx="2.9" ry="2.35"/>
<ellipse cx="450.9" cy="587" rx="2.9" ry="2.35"/>
<line x1="486.55" y1="550.3" x2="486.55" y2="580.5" stroke="#333" stroke-width="1.1"/>
<line x1="482.2" y1="550.3" x2="491.1" y2="550.3" stroke="#333" stroke-width="1.1"/>
<line x1="482.2" y1="580.5" x2="491.1" y2="580.5" stroke="#333" stroke-width="1.1"/>
<line x1="477" y1="565.5" x2="496.1" y2="565.5" stroke="#1a1a1a" stroke-width="1.6"/>
<path fill-rule="evenodd" d="M479.9,526.08 L476.2,532.48 L483.6,532.48Z M479.9,528.48 L481.52,531.28 L478.28,531.28Z"/>
<path fill-rule="evenodd" d="M493.6,528.98 L489.9,535.38 L497.3,535.38Z M493.6,531.38 L495.22,534.18 L491.98,534.18Z"/>
<path fill-rule="evenodd" d="M486.5,568.28 L482.8,574.68 L490.2,574.68Z M486.5,570.68 L488.12,573.48 L484.88,573.48Z"/>
<path fill-rule="evenodd" d="M479.9,594.58 L476.2,600.98 L483.6,600.98Z M479.9,596.98 L481.52,599.78 L478.28,599.78Z"/>
<path fill-rule="evenodd" d="M493.6,593.58 L489.9,599.98 L497.3,599.98Z M493.6,595.98 L495.22,598.78 L491.98,598.78Z"/>
<line x1="45" y1="713.5" x2="45" y2="869.1" stroke="#222" stroke-width="1.5"/>
<line x1="44.3" y1="868.4" x2="191" y2="868.4" stroke="#222" stroke-width="1.5"/>
<line x1="39.1" y1="868.4" x2="45" y2="868.4" stroke="#222" stroke-width="1.5"/>
<text transform="translate(21.4 871.66) scale(1.2007 1)" font-size="9.437" font-weight="bold" fill="#000" stroke="#000" stroke-width="0.2">0.0</text>
<line x1="39.1" y1="817" x2="45" y2="817" stroke="#222" stroke-width="1.5"/>
<text transform="translate(21.23 820.26) scale(1.2007 1)" font-size="9.437" font-weight="bold" fill="#000" stroke="#000" stroke-width="0.2">0.1</text>
<line x1="39.1" y1="765.6" x2="45" y2="765.6" stroke="#222" stroke-width="1.5"/>
<text transform="translate(21.4 768.86) scale(1.2007 1)" font-size="9.437" font-weight="bold" fill="#000" stroke="#000" stroke-width="0.2">0.2</text>
<line x1="39.1" y1="714.2" x2="45" y2="714.2" stroke="#222" stroke-width="1.5"/>
<text transform="translate(21.35 717.46) scale(1.2007 1)" font-size="9.437" font-weight="bold" fill="#000" stroke="#000" stroke-width="0.2">0.3</text>
<line x1="78.1" y1="868.4" x2="78.1" y2="873.4" stroke="#222" stroke-width="1.5"/>
<line x1="156.1" y1="868.4" x2="156.1" y2="873.4" stroke="#222" stroke-width="1.5"/>
<text transform="translate(58.65 884.6) scale(1.0997 1)" font-size="10.204" font-weight="bold" fill="#000" stroke="#000" stroke-width="0.2">Control</text>
<text transform="translate(145.47 884.59) scale(1.0313 1)" font-size="10.563" font-weight="bold" fill="#000" stroke="#000" stroke-width="0.2">Z3K</text>
<text transform="translate(0.14 692.98) scale(1.1991 1)" font-size="11.979" font-weight="normal" fill="#000" stroke="#000" stroke-width="0.45">(g)</text>
<text transform="translate(96.24 696.95) scale(1.1055 1)" font-size="12.617" font-weight="bold" fill="#000" stroke="#000" stroke-width="0.2">C-I/CS</text>
<text transform="translate(11.97 808.59) rotate(-90) scale(0.8947 1)" font-size="13.197" font-weight="normal" fill="#000" stroke="#000" stroke-width="0.35">C-I/CS</text>
<ellipse cx="232.15" cy="722.6" rx="3.1" ry="3.0"/>
<path fill-rule="evenodd" d="M232.1,736.61 L228.4,743.5 L235.8,743.5Z M232.1,739.46 L233.54,742.15 L230.66,742.15Z"/>
<text transform="translate(248.66 725.79) scale(1.1202 1)" font-size="10.748" font-weight="normal" fill="#111" stroke="#111" stroke-width="0.3">Sham</text>
<text transform="translate(249.27 742.8) scale(1.1981 1)" font-size="9.577" font-weight="normal" fill="#111" stroke="#111" stroke-width="0.3">TAC</text>
<line x1="64.25" y1="771.6" x2="64.25" y2="782" stroke="#333" stroke-width="1.1"/>
<line x1="60" y1="771.6" x2="68.9" y2="771.6" stroke="#333" stroke-width="1.1"/>
<line x1="60" y1="782" x2="68.9" y2="782" stroke="#333" stroke-width="1.1"/>
<line x1="54.9" y1="776.6" x2="73.6" y2="776.6" stroke="#1a1a1a" stroke-width="1.6"/>
<ellipse cx="64.3" cy="761.8" rx="3.0" ry="2.8"/>
<ellipse cx="57.3" cy="778.1" rx="3.0" ry="2.8"/>
<ellipse cx="70.9" cy="781.7" rx="3.0" ry="2.8"/>
<ellipse cx="57.3" cy="786.7" rx="3.0" ry="2.8"/>
<line x1="93.4" y1="761.8" x2="93.4" y2="773.5" stroke="#333" stroke-width="1.1"/>
<line x1="89.1" y1="761.8" x2="97.6" y2="761.8" stroke="#333" stroke-width="1.1"/>
<line x1="89.1" y1="773.5" x2="97.6" y2="773.5" stroke="#333" stroke-width="1.1"/>
<line x1="83.7" y1="767.3" x2="103.1" y2="767.3" stroke="#1a1a1a" stroke-width="1.6"/>
<path fill-rule="evenodd" d="M93.3,743.28 L89.6,749.68 L97,749.68Z M93.3,745.68 L94.92,748.48 L91.68,748.48Z"/>
<path fill-rule="evenodd" d="M93.3,752.88 L89.6,759.28 L97,759.28Z M93.3,755.28 L94.92,758.08 L91.68,758.08Z"/>
<path fill-rule="evenodd" d="M100.4,764.48 L96.7,770.88 L104.1,770.88Z M100.4,766.88 L102.02,769.68 L98.78,769.68Z"/>
<path fill-rule="evenodd" d="M86.5,768.38 L82.8,774.78 L90.2,774.78Z M86.5,770.78 L88.12,773.58 L84.88,773.58Z"/>
<path fill-rule="evenodd" d="M93.3,773.88 L89.6,780.28 L97,780.28Z M93.3,776.28 L94.92,779.08 L91.68,779.08Z"/>
<path fill-rule="evenodd" d="M93.3,783.98 L89.6,790.38 L97,790.38Z M93.3,786.38 L94.92,789.18 L91.68,789.18Z"/>
<line x1="141.8" y1="778.4" x2="141.8" y2="799.4" stroke="#333" stroke-width="1.1"/>
<line x1="137.2" y1="778.4" x2="146.6" y2="778.4" stroke="#333" stroke-width="1.1"/>
<line x1="137.2" y1="799.4" x2="146.6" y2="799.4" stroke="#333" stroke-width="1.1"/>
<line x1="132.4" y1="788.8" x2="151.2" y2="788.8" stroke="#1a1a1a" stroke-width="1.6"/>
<ellipse cx="135.2" cy="761.2" rx="3.0" ry="2.8"/>
<ellipse cx="148.8" cy="757.7" rx="3.0" ry="2.8"/>
<ellipse cx="141.9" cy="788.2" rx="3.0" ry="2.8"/>
<ellipse cx="141.9" cy="797.6" rx="3.0" ry="2.8"/>
<ellipse cx="141.9" cy="808.7" rx="3.0" ry="2.8"/>
<ellipse cx="141.9" cy="819.5" rx="3.0" ry="2.8"/>
<line x1="170.8" y1="763.6" x2="170.8" y2="798.5" stroke="#333" stroke-width="1.1"/>
<line x1="166.2" y1="763.6" x2="175.7" y2="763.6" stroke="#333" stroke-width="1.1"/>
<line x1="166.2" y1="798.5" x2="175.7" y2="798.5" stroke="#333" stroke-width="1.1"/>
<line x1="161.4" y1="780.9" x2="180.2" y2="780.9" stroke="#1a1a1a" stroke-width="1.6"/>
<path fill-rule="evenodd" d="M170.8,729.78 L167.1,736.18 L174.5,736.18Z M170.8,732.18 L172.42,734.98 L169.18,734.98Z"/>
<path fill-rule="evenodd" d="M170.8,747.18 L167.1,753.58 L174.5,753.58Z M170.8,749.58 L172.42,752.38 L169.18,752.38Z"/>
<path fill-rule="evenodd" d="M170.8,784.68 L167.1,791.08 L174.5,791.08Z M170.8,787.08 L172.42,789.88 L169.18,789.88Z"/>
<path fill-rule="evenodd" d="M170.8,802.88 L167.1,809.28 L174.5,809.28Z M170.8,805.28 L172.42,808.08 L169.18,808.08Z"/>
<path fill-rule="evenodd" d="M170.8,825.18 L167.1,831.58 L174.5,831.58Z M170.8,827.58 L172.42,830.38 L169.18,830.38Z"/>
<line x1="363.7" y1="713.4" x2="363.7" y2="864.3" stroke="#222" stroke-width="1.5"/>
<line x1="363" y1="863.6" x2="509.4" y2="863.6" stroke="#222" stroke-width="1.5"/>
<line x1="358.4" y1="863.6" x2="363.7" y2="863.6" stroke="#222" stroke-width="1.5"/>
<text transform="translate(334.86 866.81) scale(1.1825 1)" font-size="9.296" font-weight="bold" fill="#000" stroke="#000" stroke-width="0.2">0.00</text>
<line x1="358.4" y1="826.23" x2="363.7" y2="826.23" stroke="#222" stroke-width="1.5"/>
<text transform="translate(334.7 829.43) scale(1.1825 1)" font-size="9.296" font-weight="bold" fill="#000" stroke="#000" stroke-width="0.2">0.05</text>
<line x1="358.4" y1="788.85" x2="363.7" y2="788.85" stroke="#222" stroke-width="1.5"/>
<text transform="translate(334.86 792.06) scale(1.1825 1)" font-size="9.296" font-weight="bold" fill="#000" stroke="#000" stroke-width="0.2">0.10</text>
<line x1="358.4" y1="751.48" x2="363.7" y2="751.48" stroke="#222" stroke-width="1.5"/>
<text transform="translate(334.7 754.68) scale(1.1825 1)" font-size="9.296" font-weight="bold" fill="#000" stroke="#000" stroke-width="0.2">0.15</text>
<line x1="358.4" y1="714.1" x2="363.7" y2="714.1" stroke="#222" stroke-width="1.5"/>
<text transform="translate(334.86 717.31) scale(1.1825 1)" font-size="9.296" font-weight="bold" fill="#000" stroke="#000" stroke-width="0.2">0.20</text>
<line x1="398.4" y1="863.6" x2="398.4" y2="868.6" stroke="#222" stroke-width="1.5"/>
<line x1="475.1" y1="863.6" x2="475.1" y2="868.6" stroke="#222" stroke-width="1.5"/>
<text transform="translate(377.64 879.12) scale(1.3612 1)" font-size="8.435" font-weight="bold" fill="#000" stroke="#000" stroke-width="0.2">Control</text>
<text transform="translate(464.76 879.11) scale(1.2848 1)" font-size="8.732" font-weight="bold" fill="#000" stroke="#000" stroke-width="0.2">Z3K</text>
<text transform="translate(306.82 693.07) scale(1.2750 1)" font-size="11.551" font-weight="normal" fill="#000" stroke="#000" stroke-width="0.45">(h)</text>
<text transform="translate(414.14 697.17) scale(1.2015 1)" font-size="11.678" font-weight="bold" fill="#000" stroke="#000" stroke-width="0.2">C-II/CS</text>
<text transform="translate(325.06 807.57) rotate(-90) scale(0.8344 1)" font-size="13.605" font-weight="normal" fill="#000" stroke="#000" stroke-width="0.35">C-II/CS</text>
<ellipse cx="551.25" cy="722.6" rx="3.1" ry="3.0"/>
<path fill-rule="evenodd" d="M551.2,736.61 L547.5,743.5 L554.9,743.5Z M551.2,739.46 L552.64,742.15 L549.76,742.15Z"/>
<text transform="translate(567.76 726) scale(1.1378 1)" font-size="10.476" font-weight="normal" fill="#111" stroke="#111" stroke-width="0.3">Sham</text>
<text transform="translate(568.27 742.79) scale(1.0710 1)" font-size="10.563" font-weight="normal" fill="#111" stroke="#111" stroke-width="0.3">TAC</text>
<line x1="383.35" y1="785.3" x2="383.35" y2="799.8" stroke="#333" stroke-width="1.1"/>
<line x1="378.9" y1="785.3" x2="388.2" y2="785.3" stroke="#333" stroke-width="1.1"/>
<line x1="378.9" y1="799.8" x2="388.2" y2="799.8" stroke="#333" stroke-width="1.1"/>
<line x1="373.8" y1="792.5" x2="392.9" y2="792.5" stroke="#1a1a1a" stroke-width="1.6"/>
<ellipse cx="383.6" cy="780.7" rx="3.0" ry="2.8"/>
<ellipse cx="376.6" cy="786.1" rx="3.0" ry="2.8"/>
<ellipse cx="390.6" cy="789.4" rx="3.0" ry="2.8"/>
<ellipse cx="383.6" cy="814.1" rx="3.0" ry="2.8"/>
<line x1="412.45" y1="779.6" x2="412.45" y2="794.3" stroke="#333" stroke-width="1.1"/>
<line x1="408.4" y1="779.6" x2="417" y2="779.6" stroke="#333" stroke-width="1.1"/>
<line x1="408.4" y1="794.3" x2="417" y2="794.3" stroke="#333" stroke-width="1.1"/>
<line x1="403" y1="786.9" x2="421.9" y2="786.9" stroke="#1a1a1a" stroke-width="1.6"/>
<path fill-rule="evenodd" d="M406.1,767.18 L402.4,773.58 L409.8,773.58Z M406.1,769.58 L407.72,772.38 L404.48,772.38Z"/>
<path fill-rule="evenodd" d="M419.3,763.68 L415.6,770.08 L423,770.08Z M419.3,766.08 L420.92,768.88 L417.68,768.88Z"/>
<path fill-rule="evenodd" d="M412.6,780.78 L408.9,787.18 L416.3,787.18Z M412.6,783.18 L414.22,785.98 L410.98,785.98Z"/>
<path fill-rule="evenodd" d="M405.8,786.48 L402.1,792.88 L409.5,792.88Z M405.8,788.88 L407.42,791.68 L404.18,791.68Z"/>
<path fill-rule="evenodd" d="M419.3,791.18 L415.6,797.58 L423,797.58Z M419.3,793.58 L420.92,796.38 L417.68,796.38Z"/>
<path fill-rule="evenodd" d="M412.6,814.48 L408.9,820.88 L416.3,820.88Z M412.6,816.88 L414.22,819.68 L410.98,819.68Z"/>
<line x1="461.05" y1="793.4" x2="461.05" y2="808.1" stroke="#333" stroke-width="1.1"/>
<line x1="456.1" y1="793.4" x2="466" y2="793.4" stroke="#333" stroke-width="1.1"/>
<line x1="456.1" y1="808.1" x2="466" y2="808.1" stroke="#333" stroke-width="1.1"/>
<line x1="451.4" y1="800.6" x2="470.7" y2="800.6" stroke="#1a1a1a" stroke-width="1.6"/>
<ellipse cx="461.1" cy="778.5" rx="3.0" ry="2.8"/>
<ellipse cx="457.6" cy="784.5" rx="3.0" ry="2.8"/>
<ellipse cx="464.5" cy="789.1" rx="3.0" ry="2.8"/>
<ellipse cx="461.1" cy="815.2" rx="3.0" ry="2.8"/>
<ellipse cx="467.9" cy="817" rx="3.0" ry="2.8"/>
<ellipse cx="454.2" cy="819.8" rx="3.0" ry="2.8"/>
<line x1="489.95" y1="784.1" x2="489.95" y2="811.4" stroke="#333" stroke-width="1.1"/>
<line x1="485.3" y1="784.1" x2="494.6" y2="784.1" stroke="#333" stroke-width="1.1"/>
<line x1="485.3" y1="811.4" x2="494.6" y2="811.4" stroke="#333" stroke-width="1.1"/>
<line x1="480.3" y1="797.8" x2="499.6" y2="797.8" stroke="#1a1a1a" stroke-width="1.6"/>
<path fill-rule="evenodd" d="M490.2,753.88 L486.5,760.28 L493.9,760.28Z M490.2,756.28 L491.82,759.08 L488.58,759.08Z"/>
<path fill-rule="evenodd" d="M490.2,776.48 L486.5,782.88 L493.9,782.88Z M490.2,778.88 L491.82,781.68 L488.58,781.68Z"/>
<path fill-rule="evenodd" d="M490.2,800.78 L486.5,807.18 L493.9,807.18Z M490.2,803.18 L491.82,805.98 L488.58,805.98Z"/>
<path fill-rule="evenodd" d="M490.2,814.48 L486.5,820.88 L493.9,820.88Z M490.2,816.88 L491.82,819.68 L488.58,819.68Z"/>
<path fill-rule="evenodd" d="M490.2,829.38 L486.5,835.78 L493.9,835.78Z M490.2,831.78 L491.82,834.58 L488.58,834.58Z"/>
<line x1="50.7" y1="941.5" x2="50.7" y2="1096.7" stroke="#222" stroke-width="1.5"/>
<line x1="50" y1="1096" x2="197" y2="1096" stroke="#222" stroke-width="1.5"/>
<line x1="44.7" y1="1096" x2="50.7" y2="1096" stroke="#222" stroke-width="1.5"/>
<text transform="translate(21.15 1099.35) scale(1.1531 1)" font-size="9.718" font-weight="bold" fill="#000" stroke="#000" stroke-width="0.2">0.00</text>
<line x1="44.7" y1="1057.55" x2="50.7" y2="1057.55" stroke="#222" stroke-width="1.5"/>
<text transform="translate(20.98 1060.9) scale(1.1531 1)" font-size="9.718" font-weight="bold" fill="#000" stroke="#000" stroke-width="0.2">0.05</text>
<line x1="44.7" y1="1019.1" x2="50.7" y2="1019.1" stroke="#222" stroke-width="1.5"/>
<text transform="translate(21.15 1022.45) scale(1.1531 1)" font-size="9.718" font-weight="bold" fill="#000" stroke="#000" stroke-width="0.2">0.10</text>
<line x1="44.7" y1="980.65" x2="50.7" y2="980.65" stroke="#222" stroke-width="1.5"/>
<text transform="translate(20.98 984) scale(1.1531 1)" font-size="9.718" font-weight="bold" fill="#000" stroke="#000" stroke-width="0.2">0.15</text>
<line x1="44.7" y1="942.2" x2="50.7" y2="942.2" stroke="#222" stroke-width="1.5"/>
<text transform="translate(21.15 945.55) scale(1.1531 1)" font-size="9.718" font-weight="bold" fill="#000" stroke="#000" stroke-width="0.2">0.20</text>
<line x1="84.6" y1="1096" x2="84.6" y2="1101" stroke="#222" stroke-width="1.5"/>
<line x1="162.2" y1="1096" x2="162.2" y2="1101" stroke="#222" stroke-width="1.5"/>
<text transform="translate(64.75 1112.6) scale(1.0850 1)" font-size="10.476" font-weight="bold" fill="#000" stroke="#000" stroke-width="0.2">Control</text>
<text transform="translate(150.95 1112.59) scale(1.0795 1)" font-size="10.845" font-weight="bold" fill="#000" stroke="#000" stroke-width="0.2">Z3K</text>
<text transform="translate(-0.33 920.95) scale(1.2222 1)" font-size="12.620" font-weight="normal" fill="#000" stroke="#000" stroke-width="0.45">(i)</text>
<text transform="translate(98.65 924.85) scale(1.1216 1)" font-size="12.349" font-weight="bold" fill="#000" stroke="#000" stroke-width="0.2">C-III/CS</text>
<text transform="translate(12.26 1039.68) rotate(-90) scale(0.8372 1)" font-size="13.878" font-weight="normal" fill="#000" stroke="#000" stroke-width="0.35">C-III/CS</text>
<ellipse cx="238.15" cy="950.9" rx="3.1" ry="3.0"/>
<path fill-rule="evenodd" d="M238.1,965.21 L234.4,972.11 L241.8,972.11Z M238.1,968.06 L239.54,970.75 L236.66,970.75Z"/>
<text transform="translate(254.86 954.19) scale(1.1232 1)" font-size="10.612" font-weight="normal" fill="#111" stroke="#111" stroke-width="0.3">Sham</text>
<text transform="translate(255.58 971.2) scale(1.1153 1)" font-size="10.000" font-weight="normal" fill="#111" stroke="#111" stroke-width="0.3">TAC</text>
<line x1="69.95" y1="984.8" x2="69.95" y2="999.3" stroke="#333" stroke-width="1.1"/>
<line x1="65" y1="984.8" x2="74.7" y2="984.8" stroke="#333" stroke-width="1.1"/>
<line x1="65" y1="999.3" x2="74.7" y2="999.3" stroke="#333" stroke-width="1.1"/>
<line x1="60.1" y1="992.1" x2="79.8" y2="992.1" stroke="#1a1a1a" stroke-width="1.6"/>
<ellipse cx="63.5" cy="982.8" rx="3.0" ry="2.8"/>
<ellipse cx="77.1" cy="981.4" rx="3.0" ry="2.8"/>
<ellipse cx="70" cy="991.4" rx="3.0" ry="2.8"/>
<ellipse cx="70" cy="1013.1" rx="3.0" ry="2.8"/>
<line x1="99.35" y1="979.9" x2="99.35" y2="996.5" stroke="#333" stroke-width="1.1"/>
<line x1="94.5" y1="979.9" x2="103.9" y2="979.9" stroke="#333" stroke-width="1.1"/>
<line x1="94.5" y1="996.5" x2="103.9" y2="996.5" stroke="#333" stroke-width="1.1"/>
<line x1="89.9" y1="988.3" x2="108.8" y2="988.3" stroke="#1a1a1a" stroke-width="1.6"/>
<path fill-rule="evenodd" d="M99.2,958.78 L95.5,965.18 L102.9,965.18Z M99.2,961.18 L100.82,963.98 L97.58,963.98Z"/>
<path fill-rule="evenodd" d="M99.2,967.38 L95.5,973.78 L102.9,973.78Z M99.2,969.78 L100.82,972.58 L97.58,972.58Z"/>
<path fill-rule="evenodd" d="M99.2,976.68 L95.5,983.08 L102.9,983.08Z M99.2,979.08 L100.82,981.88 L97.58,981.88Z"/>
<path fill-rule="evenodd" d="M99.2,994.48 L95.5,1000.88 L102.9,1000.88Z M99.2,996.88 L100.82,999.68 L97.58,999.68Z"/>
<path fill-rule="evenodd" d="M99.2,1003.38 L95.5,1009.78 L102.9,1009.78Z M99.2,1005.78 L100.82,1008.58 L97.58,1008.58Z"/>
<path fill-rule="evenodd" d="M99.2,1010.48 L95.5,1016.88 L102.9,1016.88Z M99.2,1012.88 L100.82,1015.68 L97.58,1015.68Z"/>
<line x1="147.85" y1="1003.6" x2="147.85" y2="1028" stroke="#333" stroke-width="1.1"/>
<line x1="143.4" y1="1003.6" x2="152.5" y2="1003.6" stroke="#333" stroke-width="1.1"/>
<line x1="143.4" y1="1028" x2="152.5" y2="1028" stroke="#333" stroke-width="1.1"/>
<line x1="138.4" y1="1015.8" x2="157.3" y2="1015.8" stroke="#1a1a1a" stroke-width="1.6"/>
<ellipse cx="148" cy="976" rx="3.0" ry="2.8"/>
<ellipse cx="148" cy="989.9" rx="3.0" ry="2.8"/>
<ellipse cx="148" cy="1005.8" rx="3.0" ry="2.8"/>
<ellipse cx="148" cy="1032.9" rx="3.0" ry="2.8"/>
<ellipse cx="148" cy="1039.8" rx="3.0" ry="2.8"/>
<ellipse cx="148" cy="1049.9" rx="3.0" ry="2.8"/>
<line x1="177" y1="987.6" x2="177" y2="1030.1" stroke="#333" stroke-width="1.1"/>
<line x1="172.2" y1="987.6" x2="181.5" y2="987.6" stroke="#333" stroke-width="1.1"/>
<line x1="172.2" y1="1030.1" x2="181.5" y2="1030.1" stroke="#333" stroke-width="1.1"/>
<line x1="167.5" y1="1008.7" x2="186.5" y2="1008.7" stroke="#1a1a1a" stroke-width="1.6"/>
<path fill-rule="evenodd" d="M176.9,946.68 L173.2,953.08 L180.6,953.08Z M176.9,949.08 L178.52,951.88 L175.28,951.88Z"/>
<path fill-rule="evenodd" d="M176.9,966.08 L173.2,972.48 L180.6,972.48Z M176.9,968.48 L178.52,971.28 L175.28,971.28Z"/>
<path fill-rule="evenodd" d="M176.9,1016.98 L173.2,1023.38 L180.6,1023.38Z M176.9,1019.38 L178.52,1022.18 L175.28,1022.18Z"/>
<path fill-rule="evenodd" d="M170.3,1049.78 L166.6,1056.18 L174,1056.18Z M170.3,1052.18 L171.92,1054.98 L168.68,1054.98Z"/>
<path fill-rule="evenodd" d="M183.6,1049.78 L179.9,1056.18 L187.3,1056.18Z M183.6,1052.18 L185.22,1054.98 L181.98,1054.98Z"/>
<line x1="356.3" y1="939.7" x2="356.3" y2="1096.2" stroke="#222" stroke-width="1.5"/>
<line x1="355.6" y1="1095.5" x2="502.7" y2="1095.5" stroke="#222" stroke-width="1.5"/>
<line x1="350.7" y1="1095.5" x2="356.3" y2="1095.5" stroke="#222" stroke-width="1.5"/>
<text transform="translate(333.35 1098.85) scale(1.1093 1)" font-size="9.718" font-weight="bold" fill="#000" stroke="#000" stroke-width="0.2">0.0</text>
<line x1="350.7" y1="1056.72" x2="356.3" y2="1056.72" stroke="#222" stroke-width="1.5"/>
<text transform="translate(333.18 1060.08) scale(1.1093 1)" font-size="9.718" font-weight="bold" fill="#000" stroke="#000" stroke-width="0.2">0.1</text>
<line x1="350.7" y1="1017.95" x2="356.3" y2="1017.95" stroke="#222" stroke-width="1.5"/>
<text transform="translate(333.35 1021.3) scale(1.1093 1)" font-size="9.718" font-weight="bold" fill="#000" stroke="#000" stroke-width="0.2">0.2</text>
<line x1="350.7" y1="979.17" x2="356.3" y2="979.17" stroke="#222" stroke-width="1.5"/>
<text transform="translate(333.29 982.53) scale(1.1093 1)" font-size="9.718" font-weight="bold" fill="#000" stroke="#000" stroke-width="0.2">0.3</text>
<line x1="350.7" y1="940.4" x2="356.3" y2="940.4" stroke="#222" stroke-width="1.5"/>
<text transform="translate(332.97 943.75) scale(1.1093 1)" font-size="9.718" font-weight="bold" fill="#000" stroke="#000" stroke-width="0.2">0.4</text>
<line x1="390.3" y1="1095.5" x2="390.3" y2="1100.5" stroke="#222" stroke-width="1.5"/>
<line x1="468.6" y1="1095.5" x2="468.6" y2="1100.5" stroke="#222" stroke-width="1.5"/>
<text transform="translate(370.75 1112.49) scale(1.0711 1)" font-size="10.612" font-weight="bold" fill="#000" stroke="#000" stroke-width="0.2">Control</text>
<text transform="translate(457.26 1112.49) scale(1.0311 1)" font-size="10.986" font-weight="bold" fill="#000" stroke="#000" stroke-width="0.2">Z3K</text>
<text transform="translate(309.3 920.95) scale(1.1911 1)" font-size="12.620" font-weight="normal" fill="#000" stroke="#000" stroke-width="0.45">(j)</text>
<text transform="translate(403.64 922.67) scale(1.1926 1)" font-size="11.678" font-weight="bold" fill="#000" stroke="#000" stroke-width="0.2">C-IV/CS</text>
<text transform="translate(324.17 1039.85) rotate(-90) scale(0.8591 1)" font-size="12.789" font-weight="normal" fill="#000" stroke="#000" stroke-width="0.35">C-IV /CS</text>
<ellipse cx="544.45" cy="948.9" rx="3.1" ry="3.0"/>
<path fill-rule="evenodd" d="M544.4,963.61 L540.7,970.5 L548.1,970.5Z M544.4,966.46 L545.84,969.15 L542.96,969.15Z"/>
<text transform="translate(560.76 952.5) scale(1.1531 1)" font-size="10.476" font-weight="normal" fill="#111" stroke="#111" stroke-width="0.3">Sham</text>
<text transform="translate(561.47 969.89) scale(1.0913 1)" font-size="10.563" font-weight="normal" fill="#111" stroke="#111" stroke-width="0.3">TAC</text>
<line x1="375.8" y1="1005.8" x2="375.8" y2="1017.5" stroke="#333" stroke-width="1.1"/>
<line x1="371.1" y1="1005.8" x2="380.5" y2="1005.8" stroke="#333" stroke-width="1.1"/>
<line x1="371.1" y1="1017.5" x2="380.5" y2="1017.5" stroke="#333" stroke-width="1.1"/>
<line x1="366" y1="1011.2" x2="385.6" y2="1011.2" stroke="#1a1a1a" stroke-width="1.6"/>
<ellipse cx="369.1" cy="1003.5" rx="3.0" ry="2.8"/>
<ellipse cx="382.8" cy="1002.7" rx="3.0" ry="2.8"/>
<ellipse cx="375.8" cy="1010.9" rx="3.0" ry="2.8"/>
<ellipse cx="375.8" cy="1028" rx="3.0" ry="2.8"/>
<line x1="404.9" y1="997.6" x2="404.9" y2="1016.2" stroke="#333" stroke-width="1.1"/>
<line x1="399.9" y1="997.6" x2="410" y2="997.6" stroke="#333" stroke-width="1.1"/>
<line x1="399.9" y1="1016.2" x2="410" y2="1016.2" stroke="#333" stroke-width="1.1"/>
<line x1="395.2" y1="1006.6" x2="414.6" y2="1006.6" stroke="#1a1a1a" stroke-width="1.6"/>
<path fill-rule="evenodd" d="M405.3,971.68 L401.6,978.08 L409,978.08Z M405.3,974.08 L406.92,976.88 L403.68,976.88Z"/>
<path fill-rule="evenodd" d="M405.3,984.08 L401.6,990.48 L409,990.48Z M405.3,986.48 L406.92,989.28 L403.68,989.28Z"/>
<path fill-rule="evenodd" d="M405.3,1000.78 L401.6,1007.18 L409,1007.18Z M405.3,1003.18 L406.92,1005.98 L403.68,1005.98Z"/>
<path fill-rule="evenodd" d="M405.3,1008.48 L401.6,1014.88 L409,1014.88Z M405.3,1010.88 L406.92,1013.68 L403.68,1013.68Z"/>
<path fill-rule="evenodd" d="M398.3,1029.48 L394.6,1035.88 L402,1035.88Z M398.3,1031.88 L399.92,1034.68 L396.68,1034.68Z"/>
<path fill-rule="evenodd" d="M412.3,1027.88 L408.6,1034.28 L416,1034.28Z M412.3,1030.28 L413.92,1033.08 L410.68,1033.08Z"/>
<line x1="453.9" y1="1019.4" x2="453.9" y2="1038.5" stroke="#333" stroke-width="1.1"/>
<line x1="449.3" y1="1019.4" x2="458.3" y2="1019.4" stroke="#333" stroke-width="1.1"/>
<line x1="449.3" y1="1038.5" x2="458.3" y2="1038.5" stroke="#333" stroke-width="1.1"/>
<line x1="444.3" y1="1028.6" x2="463.5" y2="1028.6" stroke="#1a1a1a" stroke-width="1.6"/>
<ellipse cx="453.9" cy="997" rx="3.0" ry="2.8"/>
<ellipse cx="453.9" cy="1007.8" rx="3.0" ry="2.8"/>
<ellipse cx="453.9" cy="1024.6" rx="3.0" ry="2.8"/>
<ellipse cx="453.9" cy="1038.9" rx="3.0" ry="2.8"/>
<ellipse cx="460.6" cy="1050.5" rx="3.0" ry="2.8"/>
<ellipse cx="447" cy="1053.6" rx="3.0" ry="2.8"/>
<line x1="483.1" y1="1013.4" x2="483.1" y2="1043.9" stroke="#333" stroke-width="1.1"/>
<line x1="478.4" y1="1013.4" x2="487.8" y2="1013.4" stroke="#333" stroke-width="1.1"/>
<line x1="478.4" y1="1043.9" x2="487.8" y2="1043.9" stroke="#333" stroke-width="1.1"/>
<line x1="473.5" y1="1028.3" x2="492.7" y2="1028.3" stroke="#1a1a1a" stroke-width="1.6"/>
<path fill-rule="evenodd" d="M483.2,986.28 L479.5,992.68 L486.9,992.68Z M483.2,988.68 L484.82,991.48 L481.58,991.48Z"/>
<path fill-rule="evenodd" d="M483.2,992.78 L479.5,999.18 L486.9,999.18Z M483.2,995.18 L484.82,997.98 L481.58,997.98Z"/>
<path fill-rule="evenodd" d="M483.2,1035.38 L479.5,1041.78 L486.9,1041.78Z M483.2,1037.78 L484.82,1040.58 L481.58,1040.58Z"/>
<path fill-rule="evenodd" d="M483.2,1051.88 L479.5,1058.28 L486.9,1058.28Z M483.2,1054.28 L484.82,1057.08 L481.58,1057.08Z"/>
<path fill-rule="evenodd" d="M483.2,1061.08 L479.5,1067.48 L486.9,1067.48Z M483.2,1063.48 L484.82,1066.28 L481.58,1066.28Z"/>
<path d="M67.2 56 V36.7 H92.4 V60.7" fill="none" stroke="#111" stroke-width="1.45"/>
<path d="M133.9 43.8 V36.7 H158.7 V68.8" fill="none" stroke="#111" stroke-width="1.45"/>
<path d="M79.7 23.8L79.7 29.6M77.19 25.25L82.21 28.15M82.21 25.25L77.19 28.15" stroke="#000" stroke-width="1.15" fill="none"/>
<path d="M146.5 24.1L146.5 29.9M143.99 25.55L149.01 28.45M149.01 25.55L143.99 28.45" stroke="#000" stroke-width="1.15" fill="none"/>
<text transform="translate(523.97 559.42) scale(0.9948 1)" font-size="10.374" font-weight="normal" fill="#222" stroke="#222" stroke-width="0.35">P=0.0673 genotype factor</text>
</g>
</svg>
</body></html>
